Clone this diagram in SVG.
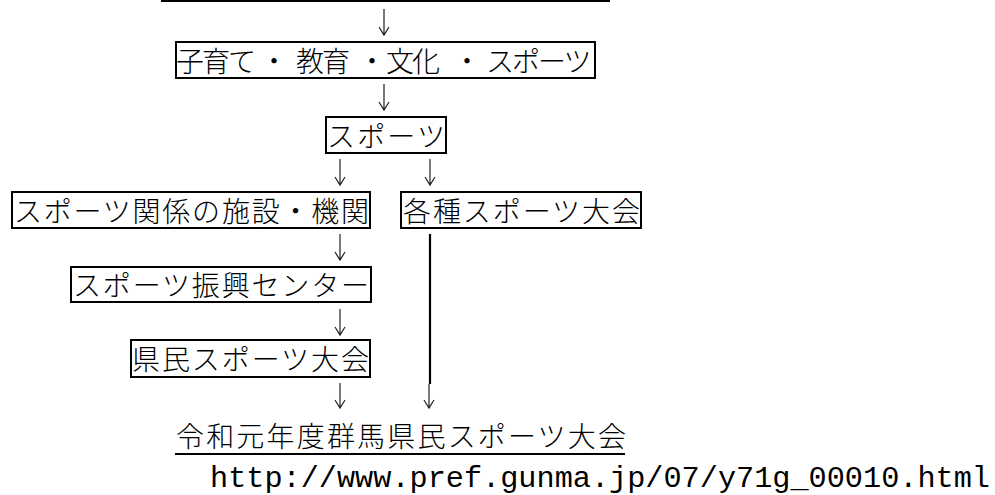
<svg xmlns="http://www.w3.org/2000/svg" width="995" height="495" viewBox="0 0 995 495">
<style>
.box{fill:#fff;stroke:#000;stroke-width:2}
.jp{font-family:"Noto Sans CJK JP","Noto Sans CJK SC",sans-serif;font-size:28px;font-weight:300;fill:#000}
.url{font-family:"Liberation Mono",monospace;font-size:30px;fill:#000}
.arr{fill:none;stroke:#222;stroke-width:1.2}
.thick{stroke:#000;stroke-width:2.2}
</style>
<rect x="161" y="0" width="449" height="2" fill="#000"/>
<g id="connectors">
<path class="arr" d="M384 9V35M379 27L384 35L389 27"/>
<path class="arr" d="M384 84V110M379 102L384 110L389 102"/>
<path class="arr" d="M340 159V185M335 177L340 185L345 177"/>
<path class="arr" d="M430 159V185M425 177L430 185L435 177"/>
<path class="arr" d="M340 234V260M335 252L340 260L345 252"/>
<path class="arr" d="M340 309V335M335 327L340 335L345 327"/>
<path class="arr" d="M340 383V408M335 400L340 408L345 400"/>
<line class="thick" x1="430" y1="234" x2="430" y2="384"/>
<path class="arr" d="M429 384V408M424 400L429 408L434 400"/>
</g>
<g id="n1">
<rect class="box" x="176" y="42" width="419" height="36"/>
<text class="jp" y="72" letter-spacing="-2"><tspan x="176">子育て</tspan><tspan x="260">・</tspan><tspan x="296">教育</tspan><tspan x="358">・</tspan><tspan x="386">文化</tspan><tspan x="453">・</tspan><tspan x="486">スポーツ</tspan></text>
</g>
<g id="n2">
<rect class="box" x="326" y="117" width="120" height="36"/>
<text class="jp" x="327" y="147" textLength="118" lengthAdjust="spacing">スポーツ</text>
</g>
<g id="n3">
<rect class="box" x="12" y="192" width="358" height="36"/>
<text class="jp" x="14" y="222" textLength="355" lengthAdjust="spacing">スポーツ関係の施設・機関</text>
</g>
<g id="n4">
<rect class="box" x="401" y="192" width="240" height="36"/>
<text class="jp" x="403" y="222" textLength="237" lengthAdjust="spacing">各種スポーツ大会</text>
</g>
<g id="n5">
<rect class="box" x="71" y="267" width="300" height="35"/>
<text class="jp" x="73" y="296" textLength="296" lengthAdjust="spacing">スポーツ振興センター</text>
</g>
<g id="n6">
<rect class="box" x="131" y="340" width="239" height="37"/>
<text class="jp" x="132" y="370" textLength="237" lengthAdjust="spacing">県民スポーツ大会</text>
</g>
<g id="n7">
<text class="jp" x="176" y="447" textLength="450" lengthAdjust="spacing">令和元年度群馬県民スポーツ大会</text>
<rect x="175" y="453" width="450" height="2" fill="#000"/>
</g>
<g id="url">
<text class="url" x="210" y="487" textLength="780" lengthAdjust="spacingAndGlyphs">http://www.pref.gunma.jp/07/y71g_00010.html</text>
</g>
</svg>
